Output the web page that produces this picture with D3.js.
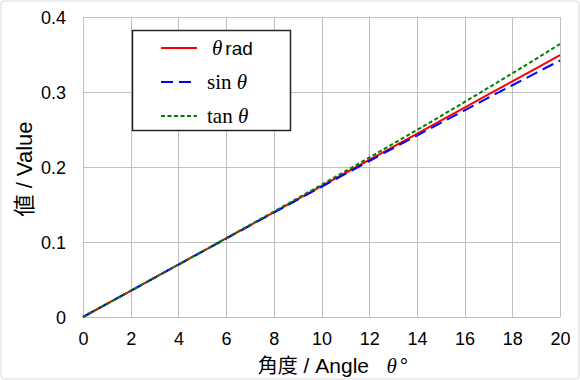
<!DOCTYPE html>
<html><head><meta charset="utf-8">
<script src="https://cdn.jsdelivr.net/npm/d3@7"></script>
<style>body{margin:0;background:#fff}svg{display:block}</style>
</head><body>
<script>
const angles = [0,1,2,3,4,5,6,7,8,9,10,11,12,13,14,15,16,17,18,19,20];
const radValues = [0,0.0175,0.0349,0.0524,0.0698,0.0873,0.1047,0.1222,0.1396,0.1571,0.1745,0.1920,0.2094,0.2269,0.2443,0.2618,0.2793,0.2967,0.3142,0.3316,0.3491];
const sinValues = [0,0.0175,0.0349,0.0523,0.0698,0.0872,0.1045,0.1219,0.1392,0.1564,0.1736,0.1908,0.2079,0.2250,0.2419,0.2588,0.2756,0.2924,0.3090,0.3256,0.3420];
const tanValues = [0,0.0175,0.0349,0.0524,0.0699,0.0875,0.1051,0.1228,0.1405,0.1584,0.1763,0.1944,0.2126,0.2309,0.2493,0.2679,0.2867,0.3057,0.3249,0.3443,0.3640];
const xTicks = [0,2,4,6,8,10,12,14,16,18,20];
const yTicks = [0,0.1,0.2,0.3,0.4];
const yTickLabels = ["0","0.1","0.2","0.3","0.4"];

const W=580,H=380;
const m={left:83,right:20,top:17,bottom:63};
const svg=d3.select("body").append("svg").attr("width",W).attr("height",H);
svg.append("rect").attr("x",1).attr("y",1).attr("width",W-2).attr("height",H-2).attr("rx",3)
  .attr("fill","#fff").attr("stroke","#d9d9d9").attr("stroke-width",1);

const x=d3.scaleLinear().domain([0,20]).range([m.left,W-m.right]);
const y=d3.scaleLinear().domain([0,0.4]).range([H-m.bottom,m.top]);
const sans="'Liberation Sans', Arial, sans-serif";
const serif="'Liberation Serif', 'Times New Roman', serif";
const grid="#c0c0c0";

const g=svg.append("g");
g.selectAll(".vg").data(xTicks).join("line")
  .attr("x1",d=>Math.round(x(d))+0.5).attr("x2",d=>Math.round(x(d))+0.5)
  .attr("y1",y(0.4)).attr("y2",y(0)).attr("stroke",grid).attr("stroke-width",1);
g.selectAll(".hg").data(yTicks).join("line")
  .attr("y1",d=>Math.round(y(d))+0.5).attr("y2",d=>Math.round(y(d))+0.5)
  .attr("x1",x(0)).attr("x2",x(20)).attr("stroke",grid).attr("stroke-width",1);

const xAxis=d3.axisBottom(x).tickValues(xTicks).tickSize(0).tickPadding(15).tickFormat(d3.format("d"));
const xa=svg.append("g").attr("transform",`translate(0,${y(0)})`).call(xAxis);
xa.select(".domain").remove();
xa.selectAll("text").attr("font-family",sans).attr("font-size",18).attr("fill","#000");
const yAxis=d3.axisLeft(y).tickValues(yTicks).tickSize(0).tickPadding(17).tickFormat((d,i)=>yTickLabels[i]);
const ya=svg.append("g").attr("transform",`translate(${x(0)},0)`).call(yAxis);
ya.select(".domain").remove();
ya.selectAll("text").attr("font-family",sans).attr("font-size",18).attr("fill","#000").attr("dy","0.35em");

// titles
const xt=svg.append("text").attr("x",333).attr("y",373).attr("text-anchor","middle")
  .attr("font-size",21).attr("fill","#000");
xt.append("tspan").attr("font-family","'Noto Sans CJK JP', sans-serif").attr("font-size",20).text("角度");
xt.append("tspan").attr("font-family",sans).text(" / Angle\u00a0\u00a0\u00a0");
xt.append("tspan").attr("font-family",serif).attr("font-style","italic").text("θ");
xt.append("tspan").attr("font-family",sans).attr("dx",3).text("°");

const yt=svg.append("text").attr("transform",`translate(32,169) rotate(-90)`)
  .attr("text-anchor","middle").attr("font-size",22).attr("fill","#000");
yt.append("tspan").attr("font-family","'Noto Sans CJK JP', sans-serif").text("値");
yt.append("tspan").attr("font-family",sans).text(" / Value");

// lines
const series=[
  {name:"rad",values:radValues,color:"#ff0000",dash:null},
  {name:"sin",values:sinValues,color:"#0000ff",dash:"12,6"},
  {name:"tan",values:tanValues,color:"#008000",dash:"4,2.5"}
];
const line=d3.line().x((d,i)=>x(angles[i])).y(d=>y(d));
svg.selectAll(".ser").data(series).join("path")
  .attr("d",d=>line(d.values)).attr("fill","none").attr("stroke",d=>d.color)
  .attr("stroke-width",2).attr("stroke-dasharray",d=>d.dash);

// legend
const lg=svg.append("g");
lg.append("rect").attr("x",132.5).attr("y",30.5).attr("width",158).attr("height",100)
  .attr("fill","#fff").attr("stroke","#262626").attr("stroke-width",1.5);
const ly=[48,82,116];
series.forEach((s,i)=>{
  lg.append("line").attr("x1",161).attr("x2",197).attr("y1",ly[i]).attr("y2",ly[i])
    .attr("stroke",s.color).attr("stroke-width",2).attr("stroke-dasharray",s.dash);
});
const t0=lg.append("text").attr("x",212).attr("y",ly[0]+7).attr("font-size",21).attr("fill","#000");
t0.append("tspan").attr("font-family",serif).attr("font-style","italic").text("θ");
t0.append("tspan").attr("font-family",sans).attr("font-size",19).attr("dx",3).text("rad");
const t1=lg.append("text").attr("x",207).attr("y",ly[1]+7).attr("font-size",21).attr("font-family",serif).attr("fill","#000");
t1.append("tspan").text("sin ");
t1.append("tspan").attr("font-style","italic").text("θ");
const t2=lg.append("text").attr("x",207).attr("y",ly[2]+7).attr("font-size",21).attr("font-family",serif).attr("fill","#000");
t2.append("tspan").text("tan ");
t2.append("tspan").attr("font-style","italic").text("θ");
</script>
</body></html>
